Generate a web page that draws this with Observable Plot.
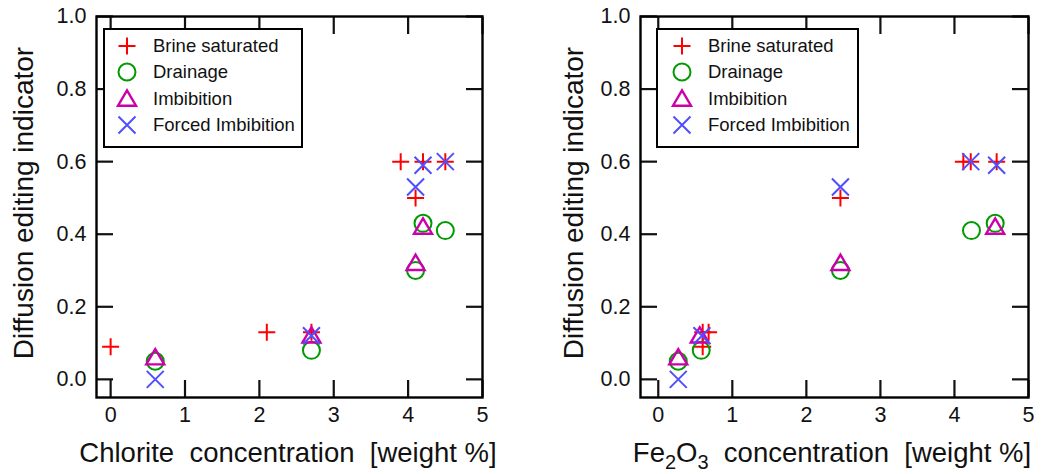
<!DOCTYPE html>
<html>
<head>
<meta charset="utf-8">
<script src="https://cdn.jsdelivr.net/npm/d3@7"></script>
<script src="https://cdn.jsdelivr.net/npm/@observablehq/plot@0.6"></script>
<style>
  body { margin: 0; background: #fff; font-family: "Liberation Sans", Arial, sans-serif; }
  #wrap { position: relative; width: 1043px; height: 474px; display: flex; overflow: hidden; }
  .panel { position: relative; height: 474px; }
  .legend { position: absolute; box-sizing: border-box; border: 2px solid #000; background: #fff;
            font-size: 18.5px; color: #111; }
  .legend .row { position: absolute; left: 0; height: 26px; display: flex; align-items: center; white-space: nowrap; }
  .legend svg { overflow: visible; }
</style>
</head>
<body>
<div id="wrap"></div>
<script>
// ---------- data ----------
const seriesNames = ["Brine saturated", "Drainage", "Imbibition", "Forced Imbibition"];
const seriesColors = ["#ff0000", "#009a00", "#cc00aa", "#4f4fff"];

const brineChlorite = [0.0, 2.1, 2.7, 3.9, 4.1, 4.2, 4.5];
const brineFe2O3    = [0.60, 0.68, 0.60, 4.12, 2.46, 4.57, 4.22];
const brineValue    = [0.09, 0.13, 0.13, 0.60, 0.50, 0.60, 0.60];

const drainChlorite = [0.6, 2.7, 4.1, 4.2, 4.5];
const drainFe2O3    = [0.27, 0.58, 2.46, 4.55, 4.23];
const drainValue    = [0.05, 0.08, 0.30, 0.43, 0.41];

const imbChlorite = [0.6, 2.7, 4.1, 4.2];
const imbFe2O3    = [0.27, 0.56, 2.46, 4.55];
const imbValue    = [0.06, 0.12, 0.32, 0.42];

const forcedChlorite = [0.6, 2.7, 4.1, 4.2, 4.5];
const forcedFe2O3    = [0.27, 0.59, 2.46, 4.57, 4.22];
const forcedValue    = [0.00, 0.12, 0.53, 0.59, 0.60];

const xTicks = [0, 1, 2, 3, 4, 5];
const yTicks = [0, 0.2, 0.4, 0.6, 0.8, 1.0];

// ---------- symbols ----------
const symPlus = { draw(c, s) { const r = Math.sqrt(s / Math.PI); c.moveTo(-r, 0); c.lineTo(r, 0); c.moveTo(0, -r); c.lineTo(0, r); } };
const symTimes = { draw(c, s) { const r = Math.sqrt(s / Math.PI); c.moveTo(-r, -r); c.lineTo(r, r); c.moveTo(-r, r); c.lineTo(r, -r); } };
const symCircle = { draw(c, s) { const r = Math.sqrt(s / Math.PI); c.moveTo(r, 0); c.arc(0, 0, r, 0, 2 * Math.PI); } };
const symTriangle = { draw(c, s) { const r = Math.sqrt(s / Math.PI); c.moveTo(0, -0.95 * r); c.lineTo(r, 0.75 * r); c.lineTo(-r, 0.75 * r); c.closePath(); } };
const seriesSymbols = [symPlus, symCircle, symTriangle, symTimes];
const seriesR = [8.5, 8.5, 9, 8.5];
const seriesSW = [2, 2, 2.4, 2];

const rows = (xs, ys) => xs.map((x, i) => ({ x, y: ys[i] }));

function makePanel(cfg) {
  const data = [
    rows(cfg.xs[0], brineValue),
    rows(cfg.xs[1], drainValue),
    rows(cfg.xs[2], imbValue),
    rows(cfg.xs[3], forcedValue)
  ];
  const tick = 17;
  const svg = Plot.plot({
    width: cfg.width, height: 474,
    marginLeft: cfg.ml, marginRight: cfg.mr, marginTop: 16, marginBottom: 77,
    style: { fontFamily: "Liberation Sans, Arial, sans-serif", fontSize: "21.5px", color: "#111", background: "#fff" },
    x: { domain: cfg.xDomain, label: null },
    y: { domain: [-0.05, 1.0], label: null },
    marks: [
      Plot.axisY({ anchor: "left", ticks: yTicks, tickFormat: d3.format(".1f"), tickSize: -tick, tickPadding: tick + 10, strokeWidth: 2.2, label: null }),
      Plot.axisY({ anchor: "right", ticks: yTicks, tickFormat: () => "", tickSize: -tick, strokeWidth: 2.2, label: null }),
      Plot.axisX({ anchor: "bottom", ticks: xTicks, tickFormat: d3.format("d"), tickSize: -tick, tickPadding: tick + 9, strokeWidth: 2.2, label: null }),
      Plot.axisX({ anchor: "top", ticks: xTicks, tickFormat: () => "", tickSize: -tick, strokeWidth: 2.2, label: null }),
      ...data.map((d, i) => Plot.dot(d, { x: "x", y: "y", symbol: seriesSymbols[i], r: seriesR[i], stroke: seriesColors[i], fill: "none", strokeWidth: seriesSW[i] })),
      Plot.frame({ stroke: "#000", strokeWidth: 2.4 })
    ]
  });
  const s = d3.select(svg);
  s.append("text")
    .attr("transform", `translate(${cfg.yLabelX},203) rotate(-90)`)
    .attr("text-anchor", "middle").attr("dominant-baseline", "middle")
    .attr("font-size", 28).attr("fill", "#111")
    .text("Diffusion editing indicator");
  const xl = s.append("text")
    .attr("x", cfg.xLabelX).attr("y", 462)
    .attr("text-anchor", "middle").attr("font-size", 27.5).attr("fill", "#111")
    .style("white-space", "pre");
  cfg.xLabel(xl);

  const panel = document.createElement("div");
  panel.className = "panel";
  panel.style.width = cfg.width + "px";
  panel.appendChild(svg);

  const lg = document.createElement("div");
  lg.className = "legend";
  Object.assign(lg.style, { left: cfg.lgLeft + "px", top: "28px", width: cfg.lgWidth + "px", height: "120px" });
  seriesNames.forEach((name, i) => {
    const row = document.createElement("div");
    row.className = "row";
    row.style.top = (2.5 + i * 26.6) + "px";
    const sv = d3.create("svg").attr("width", 20).attr("height", 20).style("margin-left", (cfg.lgSym - 10) + "px").style("margin-right", (cfg.lgText - cfg.lgSym - 10) + "px");
    const r = seriesR[i];
    sv.append("path").attr("transform", "translate(10,10)")
      .attr("d", d3.symbol(seriesSymbols[i], Math.PI * r * r)())
      .attr("fill", "none").attr("stroke", seriesColors[i]).attr("stroke-width", seriesSW[i]);
    row.appendChild(sv.node());
    const t = document.createElement("span");
    t.textContent = name;
    row.appendChild(t);
    lg.appendChild(row);
  });
  panel.appendChild(lg);
  return panel;
}

const wrap = document.getElementById("wrap");
wrap.appendChild(makePanel({
  width: 521, ml: 96, mr: 39, xDomain: [-0.19, 5],
  xs: [brineChlorite, drainChlorite, imbChlorite, forcedChlorite],
  yLabelX: 26, xLabelX: 288,
  xLabel: t => t.text("Chlorite  concentration  [weight %]"),
  lgLeft: 103, lgWidth: 200, lgSym: 22, lgText: 48
}));
wrap.appendChild(makePanel({
  width: 522, ml: 119, mr: 15, xDomain: [-0.24, 5],
  xs: [brineFe2O3, drainFe2O3, imbFe2O3, forcedFe2O3],
  yLabelX: 55, xLabelX: 311,
  xLabel: t => {
    t.append("tspan").text("Fe");
    t.append("tspan").attr("font-size", 20).attr("dy", 7).text("2");
    t.append("tspan").attr("dy", -7).text("O");
    t.append("tspan").attr("font-size", 20).attr("dy", 7).text("3");
    t.append("tspan").attr("dy", -7).text("  concentration  [weight %]");
  },
  lgLeft: 135, lgWidth: 203, lgSym: 24, lgText: 50
}));
</script>
</body>
</html>
